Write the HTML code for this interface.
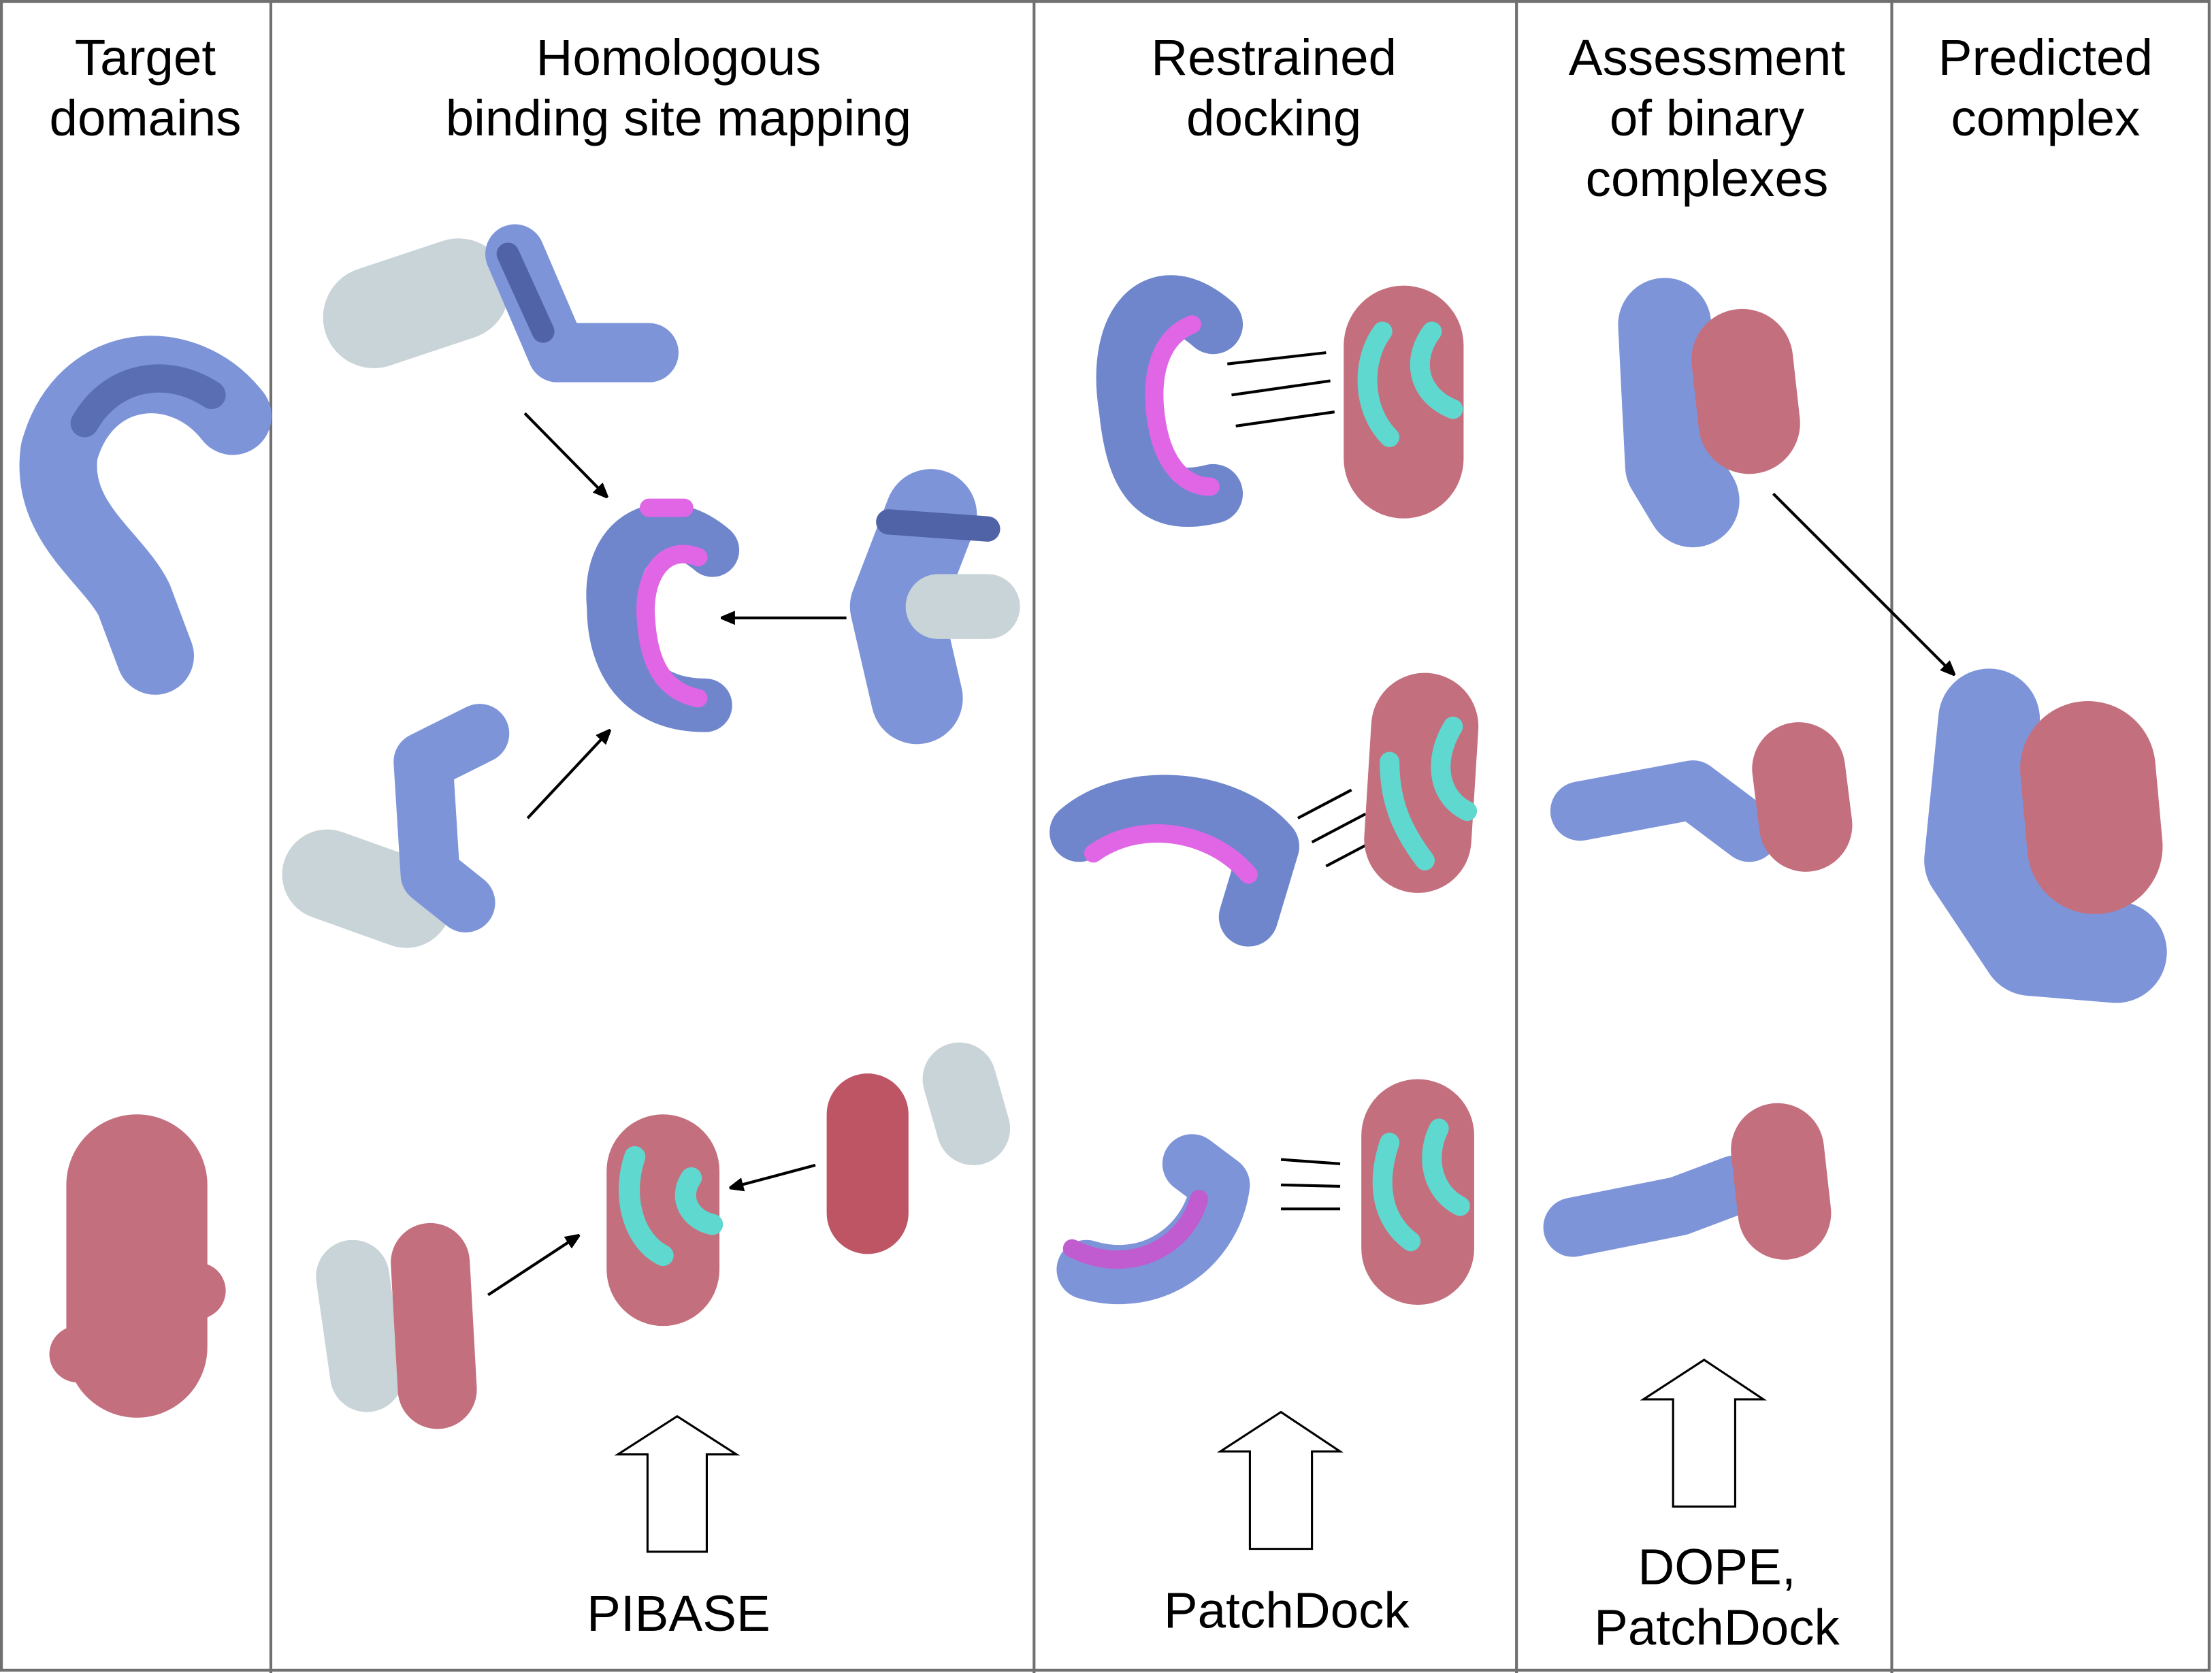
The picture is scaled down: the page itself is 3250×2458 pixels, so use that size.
<!DOCTYPE html>
<html><head><meta charset="utf-8"><style>
html,body{margin:0;padding:0;background:#fff}
svg{display:block}
text{font-family:"Liberation Sans",Arial,sans-serif;fill:#000;text-anchor:middle;font-size:36px}
</style></head><body>
<svg width="3250" height="2458" viewBox="0 0 1568 1186" preserveAspectRatio="none" xmlns="http://www.w3.org/2000/svg">
<rect x="1" y="1" width="1565" height="1183" fill="#fff" stroke="#707070" stroke-width="2"/>
<g stroke="#707070" stroke-width="2">
<line x1="192" y1="0" x2="192" y2="1186"/><line x1="733" y1="0" x2="733" y2="1186"/>
<line x1="1075" y1="0" x2="1075" y2="1186"/><line x1="1341" y1="0" x2="1341" y2="1186"/>
</g>
<text x="103" y="53">Target</text><text x="103" y="96">domains</text>
<text x="481" y="53">Homologous</text><text x="481" y="96">binding site mapping</text>
<text x="903" y="53">Restrained</text><text x="903" y="96">docking</text>
<text x="1210" y="53">Assessment</text><text x="1210" y="96">of binary</text><text x="1210" y="139">complexes</text>
<text x="1450" y="53">Predicted</text><text x="1450" y="96">complex</text>
<text x="481" y="1156">PIBASE</text><text x="912" y="1154">PatchDock</text>
<text x="1217" y="1123">DOPE,</text><text x="1217" y="1166">PatchDock</text>
<g fill="#fff" stroke="#000" stroke-width="1.5">
<polygon points="480,1004 522,1031 501,1031 501,1100 459,1100 459,1031 438,1031"/>
<polygon points="908,1001 950,1029 930,1029 930,1098 886,1098 886,1029 865,1029"/>
<polygon points="1208,964 1250,992 1230,992 1230,1068 1186,1068 1186,992 1165,992"/>
</g>
<defs><marker id="a" markerWidth="10" markerHeight="10" refX="9" refY="5" orient="auto" markerUnits="userSpaceOnUse"><path d="M0,0 L12,5 L0,10 z" fill="#000"/></marker></defs>
<g stroke="#000" stroke-width="2" marker-end="url(#a)">
<line x1="372" y1="293" x2="430" y2="352"/><line x1="600" y1="438" x2="512" y2="438"/>
<line x1="374" y1="580" x2="432" y2="518"/><line x1="346" y1="918" x2="410" y2="876"/>
<line x1="578" y1="826" x2="518" y2="842"/><line x1="1257" y1="350" x2="1385" y2="478"/>
</g>
<g stroke="#000" stroke-width="2">
<line x1="870" y1="258" x2="940" y2="250"/><line x1="873" y1="280" x2="943" y2="270"/><line x1="876" y1="302" x2="946" y2="292"/>
<line x1="920" y1="580" x2="958" y2="560"/><line x1="930" y1="597" x2="968" y2="577"/><line x1="940" y1="614" x2="978" y2="594"/>
<line x1="908" y1="822" x2="950" y2="825"/><line x1="908" y1="840" x2="950" y2="841"/><line x1="908" y1="857" x2="950" y2="857"/>
</g>
<g fill="none" stroke-linecap="round" stroke-linejoin="round">
<path d="M165,295 C130,250 60,255 42,320 C35,370 80,395 95,425 L110,465" stroke="#7d94d9" stroke-width="55"/>
<path d="M150,280 C120,260 80,265 60,300" stroke="#5a6fb3" stroke-width="20"/>
<path d="M97,840 L97,955" stroke="#c46f7e" stroke-width="100"/>
<path d="M55,960 L140,915" stroke="#c46f7e" stroke-width="40"/>
<path d="M265,225 L325,205" stroke="#c8d4d8" stroke-width="72"/>
<path d="M365,180 L395,250 L460,250" stroke="#7d94d9" stroke-width="42"/>
<path d="M360,180 L385,235" stroke="#4f63a6" stroke-width="16"/>
<path d="M505,390 C470,360 430,380 435,430 C435,470 455,500 500,500" stroke="#6f86cc" stroke-width="38"/>
<path d="M495,395 C470,385 455,410 458,440 C460,470 470,490 495,495" stroke="#e066e6" stroke-width="13"/>
<path d="M460,360 L485,360" stroke="#e066e6" stroke-width="13"/>
<path d="M660,365 L635,430 L650,495" stroke="#7d94d9" stroke-width="65"/>
<path d="M665,430 L700,430" stroke="#c8d4d8" stroke-width="46"/>
<path d="M630,370 L700,375" stroke="#4f63a6" stroke-width="18"/>
<path d="M232,620 L288,640" stroke="#c8d4d8" stroke-width="64"/>
<path d="M340,520 L300,540 L305,620 L330,640" stroke="#7d94d9" stroke-width="42"/>
<path d="M470,830 L470,900" stroke="#c46f7e" stroke-width="80"/>
<path d="M450,820 C440,850 450,880 470,890 M490,835 C480,850 490,865 505,868" stroke="#5fd8d0" stroke-width="15"/>
<path d="M250,905 L260,975" stroke="#c8d4d8" stroke-width="52"/>
<path d="M305,895 L310,985" stroke="#c46f7e" stroke-width="56"/>
<path d="M615,790 L615,860" stroke="#bd5565" stroke-width="58"/>
<path d="M680,765 L690,800" stroke="#c8d4d8" stroke-width="52"/>
<path d="M860,230 C820,195 790,230 800,290 C805,340 820,360 860,350" stroke="#6f86cc" stroke-width="42"/>
<path d="M845,230 C820,240 815,270 820,300 C825,330 840,345 858,345" stroke="#e066e6" stroke-width="13"/>
<path d="M995,245 L995,325" stroke="#c46f7e" stroke-width="85"/>
<path d="M980,235 C965,255 965,290 985,310 M1015,235 C1000,255 1005,280 1030,290" stroke="#5fd8d0" stroke-width="14"/>
<path d="M765,590 C800,560 870,565 900,600 L885,650" stroke="#6f86cc" stroke-width="42"/>
<path d="M775,605 C810,580 860,590 885,620" stroke="#e066e6" stroke-width="13"/>
<path d="M1010,515 L1005,595" stroke="#c46f7e" stroke-width="76"/>
<path d="M985,540 C985,570 995,590 1010,610 M1030,515 C1015,540 1020,565 1040,575" stroke="#5fd8d0" stroke-width="14"/>
<path d="M770,900 C820,915 860,880 865,840 L845,825" stroke="#7d94d9" stroke-width="42"/>
<path d="M760,885 C800,905 840,885 850,850" stroke="#c15cd0" stroke-width="13"/>
<path d="M1005,805 L1005,885" stroke="#c46f7e" stroke-width="80"/>
<path d="M985,810 C975,840 980,865 1000,880 M1020,800 C1010,820 1015,845 1035,855" stroke="#5fd8d0" stroke-width="14"/>
<path d="M1180,230 L1185,330 L1200,355" stroke="#7d94d9" stroke-width="66"/>
<path d="M1235,255 L1240,300" stroke="#c46f7e" stroke-width="72"/>
<path d="M1120,575 L1200,560 L1240,590" stroke="#7d94d9" stroke-width="42"/>
<path d="M1275,545 L1280,585" stroke="#c46f7e" stroke-width="66"/>
<path d="M1115,870 L1190,855 L1230,840" stroke="#7d94d9" stroke-width="42"/>
<path d="M1260,815 L1265,860" stroke="#c46f7e" stroke-width="66"/>
<path d="M1410,510 L1400,610 L1440,670 L1500,675" stroke="#7d94d9" stroke-width="72"/>
<path d="M1480,545 L1485,600" stroke="#c46f7e" stroke-width="96"/>
</g>
</svg>
</body></html>
